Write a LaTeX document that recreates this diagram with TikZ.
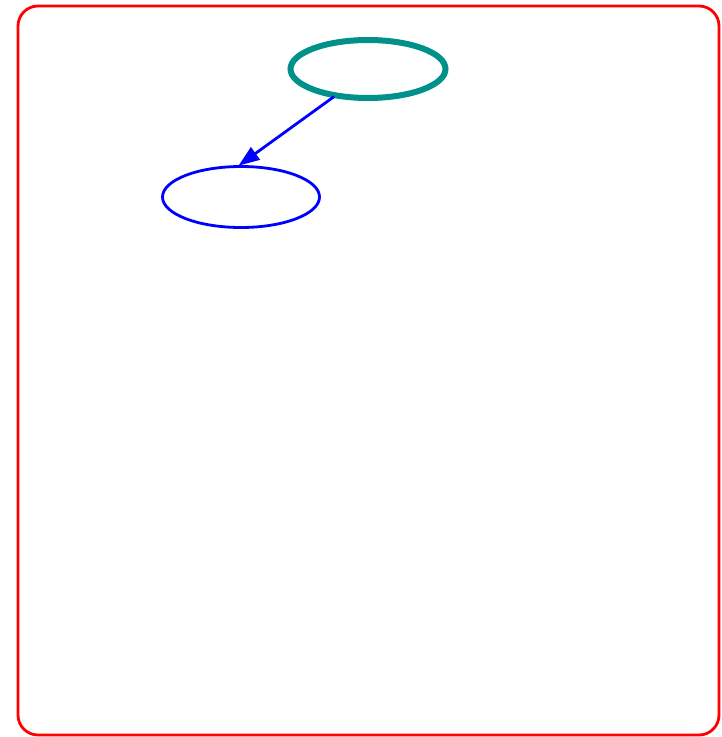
\documentclass[tikz,border=0pt]{standalone}
\usetikzlibrary{arrows.meta,shapes.geometric}
\definecolor{tealc}{RGB}{0,146,138}
\tikzset{
  frame/.style={draw=red, line width=2.8pt, rounded corners=20pt},
  topnode/.style={ellipse, draw=tealc, line width=6pt, inner sep=0pt, minimum width=155pt, minimum height=58pt},
  botnode/.style={ellipse, draw=blue, line width=2.8pt, inner sep=0pt, minimum width=157pt, minimum height=61pt},
  conn/.style={draw=blue, line width=2.8pt, -{Triangle[length=21pt,width=15pt]}, shorten >=-1pt, shorten <=-2pt}
}
\begin{document}
\begin{tikzpicture}[x=1pt,y=-1pt]
\useasboundingbox (0,0) rectangle (722,737);
\draw[frame] (18,6) rectangle (719,735);
\node[topnode] (t) at (368,69) {};
\node[botnode] (b) at (241,197) {};
\draw[conn] (t.219) -- (b.93);
\end{tikzpicture}
\end{document}
